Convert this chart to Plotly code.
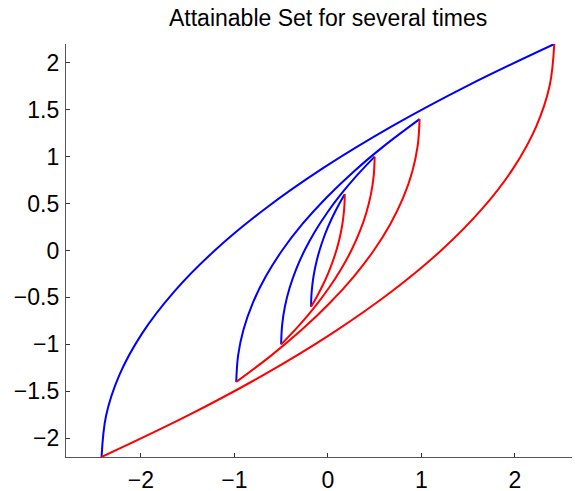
import plotly.graph_objects as go

# Attainable-set boundaries for several final times
times = [0.6, 1.0, 1.4, 2.2]

y_06 = [-0.6, -0.48, -0.36, -0.24, -0.12, 0.0, 0.12, 0.24, 0.36, 0.48, 0.6]
blue_06 = [-0.18, -0.1764, -0.1656, -0.1476, -0.1224, -0.09, -0.0504, -0.0036, 0.0504, 0.1116, 0.18]
red_06 = [-0.18, -0.1116, -0.0504, 0.0036, 0.0504, 0.09, 0.1224, 0.1476, 0.1656, 0.1764, 0.18]

y_10 = [-1.0, -0.8, -0.6, -0.4, -0.2, 0.0, 0.2, 0.4, 0.6, 0.8, 1.0]
blue_10 = [-0.5, -0.49, -0.46, -0.41, -0.34, -0.25, -0.14, -0.01, 0.14, 0.31, 0.5]
red_10 = [-0.5, -0.31, -0.14, 0.01, 0.14, 0.25, 0.34, 0.41, 0.46, 0.49, 0.5]

y_14 = [-1.4, -1.12, -0.84, -0.56, -0.28, 0.0, 0.28, 0.56, 0.84, 1.12, 1.4]
blue_14 = [-0.98, -0.9604, -0.9016, -0.8036, -0.6664, -0.49, -0.2744, -0.0196, 0.2744, 0.6076, 0.98]
red_14 = [-0.98, -0.6076, -0.2744, 0.0196, 0.2744, 0.49, 0.6664, 0.8036, 0.9016, 0.9604, 0.98]

y_22 = [-2.2, -1.76, -1.32, -0.88, -0.44, 0.0, 0.44, 0.88, 1.32, 1.76, 2.2]
blue_22 = [-2.42, -2.3716, -2.2264, -1.9844, -1.6456, -1.21, -0.6776, -0.0484, 0.6776, 1.5004, 2.42]
red_22 = [-2.42, -1.5004, -0.6776, 0.0484, 0.6776, 1.21, 1.6456, 1.9844, 2.2264, 2.3716, 2.42]

x_ticks = [-2, -1, 0, 1, 2]
y_ticks = [-2, -1.5, -1, -0.5, 0, 0.5, 1, 1.5, 2]
title_text = "Attainable Set for several times"

curves = [
    (y_06, blue_06, red_06),
    (y_10, blue_10, red_10),
    (y_14, blue_14, red_14),
    (y_22, blue_22, red_22),
]

fig = go.Figure()
for yy, bx, rx in curves:
    fig.add_trace(go.Scatter(x=bx, y=yy, mode="lines", line=dict(color="#0000ff", width=2, shape="spline"),
                             showlegend=False, hoverinfo="skip"))
    fig.add_trace(go.Scatter(x=rx, y=yy, mode="lines", line=dict(color="#ff0000", width=2, shape="spline"),
                             showlegend=False, hoverinfo="skip"))

font_family = "Liberation Sans, Arial, Helvetica, sans-serif"
# page body has an 8px margin, so the figure is sized/offset to compensate
fig.update_layout(
    width=572, height=483,
    margin=dict(l=58, r=0, t=36, b=34),
    paper_bgcolor="white", plot_bgcolor="white",
    font=dict(family=font_family, size=23, color="black"),
    annotations=[dict(text=title_text, xref="x", yref="paper", x=0.0, y=1.0, yshift=11,
                      xanchor="center", yanchor="bottom", showarrow=False,
                      font=dict(family=font_family, size=23, color="black"))],
)
fig.update_xaxes(range=[-2.80, 2.695], tickvals=x_ticks, showgrid=False, zeroline=False,
                 showline=True, linecolor="#555555", linewidth=1.3, automargin=False,
                 ticks="inside", ticklen=4, tickcolor="#333333", tickwidth=1,
                 ticklabelstandoff=2)
fig.update_yaxes(range=[-2.2, 2.2], tickvals=y_ticks, showgrid=False, zeroline=False,
                 showline=True, linecolor="#555555", linewidth=1.3, automargin=False,
                 ticks="inside", ticklen=4, tickcolor="#333333", tickwidth=1,
                 ticklabelstandoff=1)

fig.write_html("out.html")
